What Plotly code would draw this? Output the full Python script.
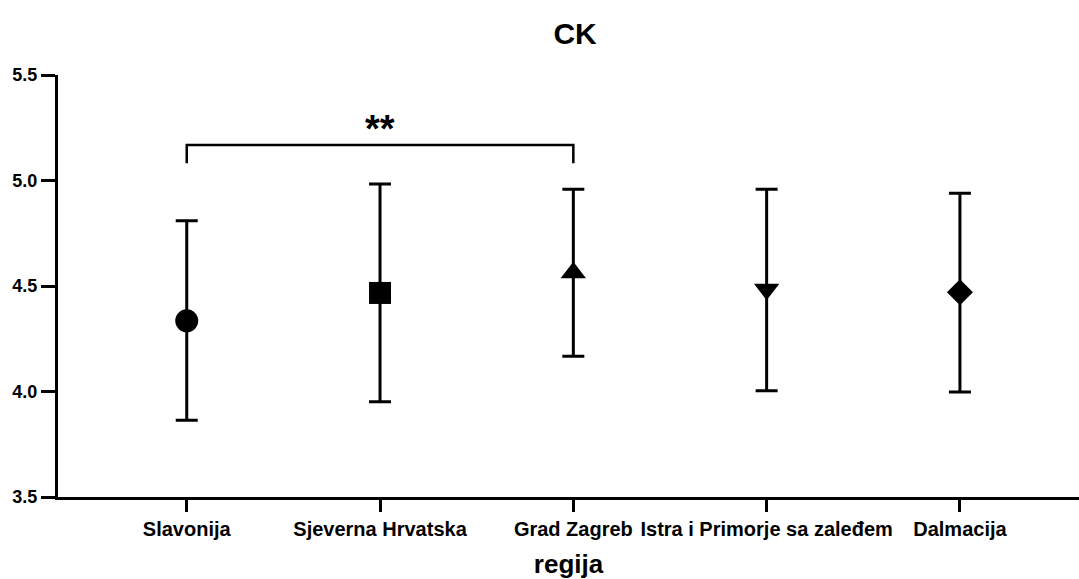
import plotly.graph_objects as go

# Region means with their upper / lower error limits
regions = ["Slavonija", "Sjeverna Hrvatska", "Grad Zagreb",
           "Istra i Primorje sa zaleđem", "Dalmacija"]
means = [4.335, 4.467, 4.563, 4.485, 4.470]
upper = [4.809, 4.983, 4.958, 4.958, 4.939]
lower = [3.864, 3.951, 4.167, 4.003, 3.998]
symbols = ["circle", "square", "triangle-up", "triangle-down", "diamond"]
sizes = [23, 22, 22, 22, 20]

# Significance bracket between Slavonija and Grad Zagreb
bracket_x = [0, 0, 2, 2]
bracket_y = [5.082, 5.168, 5.168, 5.082]
star_text = "**"
star_y = 5.245

y_ticks = [3.5, 4.0, 4.5, 5.0, 5.5]
y_ticktext = ["3.5", "4.0", "4.5", "5.0", "5.5"]

FONT = "Arial, Liberation Sans, sans-serif"
BLACK = "#000000"

fig = go.Figure()

for i, name in enumerate(regions):
    fig.add_trace(go.Scatter(
        x=[i], y=[means[i]],
        mode="markers",
        name=name,
        marker=dict(symbol=symbols[i], size=sizes[i], color=BLACK,
                    line=dict(width=0)),
        error_y=dict(type="data", symmetric=False,
                     array=[upper[i] - means[i]],
                     arrayminus=[means[i] - lower[i]],
                     color=BLACK, thickness=3, width=11),
        showlegend=False,
    ))

fig.add_trace(go.Scatter(
    x=bracket_x, y=bracket_y, mode="lines",
    line=dict(color=BLACK, width=2.5),
    showlegend=False, hoverinfo="skip",
))

fig.add_annotation(
    x=1, y=star_y, text="<b>" + star_text + "</b>", showarrow=False,
    font=dict(family=FONT, size=38, color=BLACK),
    xanchor="center", yanchor="middle",
)

fig.update_layout(
    width=1079, height=579,
    margin=dict(l=58, r=0, t=75, b=82),
    paper_bgcolor="white", plot_bgcolor="white",
    title=dict(text="<b>CK</b>", x=0.533, xanchor="center",
               y=1 - 33 / 579, yanchor="middle",
               font=dict(family=FONT, size=30, color=BLACK)),
    font=dict(family=FONT, color=BLACK),
)

fig.update_xaxes(
    range=[-0.666, 4.616],
    tickmode="array", tickvals=list(range(len(regions))),
    ticktext=["<b>" + r + "</b>" for r in regions],
    tickfont=dict(family=FONT, size=20, color=BLACK),
    ticks="outside", ticklen=12, tickwidth=2.5, tickcolor=BLACK,
    showline=True, linecolor=BLACK, linewidth=3,
    showgrid=False, zeroline=False,
    title=dict(text="<b>regija</b>", standoff=16,
               font=dict(family=FONT, size=26, color=BLACK)),
)

fig.update_yaxes(
    range=[3.5, 5.5],
    tickmode="array", tickvals=y_ticks,
    ticktext=["<b>" + t + "</b>" for t in y_ticktext],
    tickfont=dict(family=FONT, size=18, color=BLACK),
    ticks="outside", ticklen=14, tickwidth=2.5, tickcolor=BLACK,
    showline=True, linecolor=BLACK, linewidth=3,
    showgrid=False, zeroline=False,
)

fig.write_html("out.html")
